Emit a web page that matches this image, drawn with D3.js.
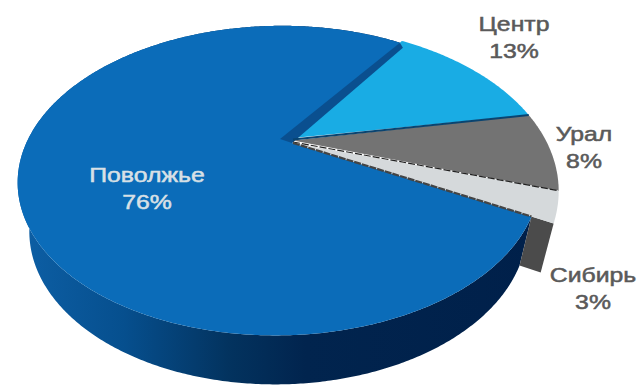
<!DOCTYPE html>
<html>
<head>
<meta charset="utf-8">
<script src="https://cdn.jsdelivr.net/npm/d3@7"></script>
<style>
html,body{margin:0;padding:0;background:#fff;overflow:hidden}
text{font-family:"Liberation Sans",Arial,sans-serif}
</style>
</head>
<body>
<svg id="chart" width="638" height="385"></svg>
<script>
// Regional shares, clockwise from the upper right
const regions = ["Центр", "Урал", "Сибирь", "Поволжье"];
const shares = [13, 8, 3, 76];
const sliceColors = ["#19ace4", "#737373", "#d5d9db", "#0b6cb9"];
const labelColors = ["#5a5a5a", "#5a5a5a", "#5a5a5a", "#d8e0e6"];

const width = 638, height = 385;
const svg = d3.select("#chart");
const rad = Math.PI / 180;

// Perspective view of the unit disc: the pie's centre sits off the ellipse centre
const view = {x0: 292, y0: 142, a: 252, b: 145, h: 0.05, k: -0.249};
function project(theta, r) {
  const u = r * Math.sin(theta), v = -r * Math.cos(theta);
  const w = 1 + view.h * u + view.k * v;
  return [view.x0 + view.a * u / w, view.y0 + view.b * v / w];
}
// The bottom face is the top face shifted down and slightly shrunk
const lower = ([x, y]) => [0.954 * x + 12.5, y + 49];

const pie = d3.pie().sort(null).value(d => d)
  .startAngle(32 * rad).endAngle(392 * rad);
const arcs = pie(shares);
const big = arcs[3], small = arcs.slice(0, 3);

// The three smaller slices pull away progressively from the large one
const rimScale = d3.scaleLinear()
  .domain([small[0].startAngle, small[2].endAngle])
  .range([1.022, 1.085]);

const line = d3.line();
const sweep = (a0, a1, step = 0.5 * rad) => {
  const n = Math.max(2, Math.ceil((a1 - a0) / step));
  return d3.range(n + 1).map(i => a0 + (a1 - a0) * i / n);
};
const rimPts = (a0, a1, rim) => sweep(a0, a1).map(t => project(t, rim(t)));
const bigRim = () => 1;

const defs = svg.append("defs");
const wallGrad = defs.append("linearGradient")
  .attr("id", "wall").attr("gradientUnits", "userSpaceOnUse")
  .attr("x1", 20).attr("x2", 540).attr("y1", 0).attr("y2", 0);
[[0, "#0d5fa5"], [0.2, "#064f8e"], [0.4, "#03335f"], [0.55, "#01244e"], [1, "#00204a"]]
  .forEach(([o, c]) => wallGrad.append("stop").attr("offset", o).attr("stop-color", c));

// Outer wall of the large slice
const bigOuter = rimPts(big.startAngle, big.endAngle, bigRim);
svg.append("path")
  .attr("d", line(bigOuter.concat(bigOuter.map(lower).reverse())) + "Z")
  .attr("fill", "url(#wall)");

// Wall showing under the lower edge of the small light slice
const sibEnd = small[2].endAngle;
const wallTop = [project(big.startAngle, 1), project(sibEnd, rimScale(sibEnd))];
svg.append("path")
  .attr("d", line(wallTop.concat(wallTop.map(lower).reverse())) + "Z")
  .attr("fill", "#4b4b4b");

// Top faces; each small slice has its own slightly raised point
const apex = [view.x0, view.y0 + 1];
const apexLift = [5, 2.5, 0];
svg.append("path")
  .attr("d", line([apex].concat(bigOuter)) + "Z")
  .attr("fill", sliceColors[3]);

small.forEach((d, i) => {
  const tip = [apex[0] + 1, apex[1] - apexLift[i]];
  svg.append("path")
    .attr("d", line([tip].concat(rimPts(d.startAngle, d.endAngle, rimScale))) + "Z")
    .attr("fill", sliceColors[i]);
});

// Shaded cut face of the large slice beside the bright slice
const cutEnd = project(big.endAngle, 1);
svg.append("path")
  .attr("d", line([[apex[0] - 12, apex[1] - 4], cutEnd, [cutEnd[0] + 3, cutEnd[1] + 5], apex]) + "Z")
  .attr("fill", "#0a4f8f");

// Seams between the slices
const seam = (angle, rim, lift, color, w, dash) => svg.append("line")
  .attr("x1", apex[0] + 1).attr("y1", apex[1] - lift)
  .attr("x2", project(angle, rim)[0]).attr("y2", project(angle, rim)[1])
  .attr("stroke", color).attr("stroke-width", w)
  .attr("stroke-dasharray", dash);
seam(small[1].startAngle, rimScale(small[1].startAngle), 3.5, "#0a4470", 2, null);
seam(small[2].startAngle, rimScale(small[2].startAngle), 1, "#222", 1.2, "7 2");
seam(big.startAngle, 1, 0, "#444", 2.2, "7 1");

// Labels: name above value, in a horizontally widened face
const labelSpots = [[514, 31], [584, 141], [593, 282], [147, 182]];
regions.forEach((name, i) => {
  const t = svg.append("text")
    .attr("text-anchor", "middle")
    .attr("fill", labelColors[i])
    .attr("font-size", 20)
    .attr("stroke", labelColors[i]).attr("stroke-width", 0.5)
    .attr("transform", `translate(${labelSpots[i][0]},${labelSpots[i][1]}) scale(1.24,1)`);
  t.append("tspan").attr("x", 0).text(name);
  t.append("tspan").attr("x", 0).attr("dy", 27).text(shares[i] + "%");
});
</script>
</body>
</html>
